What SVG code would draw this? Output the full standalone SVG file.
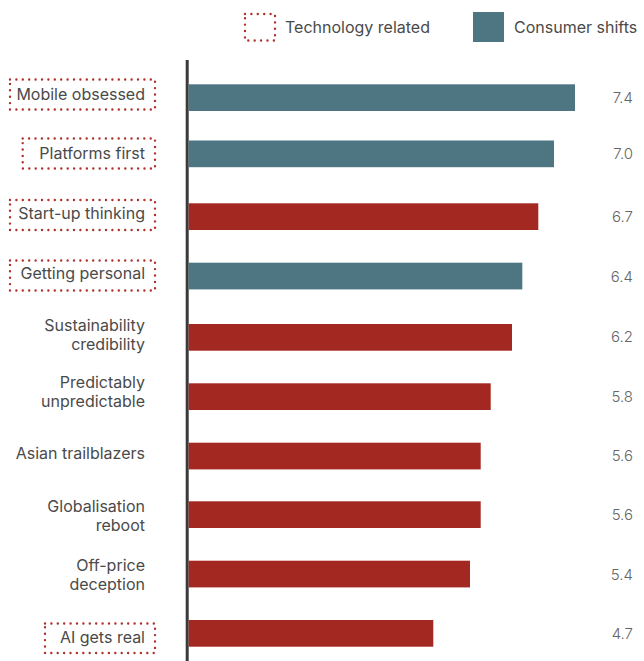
<svg xmlns="http://www.w3.org/2000/svg" width="644" height="661" viewBox="0 0 644 661">
<style>
text{font-family:Inter,"Liberation Sans",Arial,sans-serif;font-size:16px;fill:#4a4a4a}
.lbl{text-anchor:end}
.val{text-anchor:end;font-size:15px;font-weight:300;fill:#666}
.red{fill:#a42822}
.teal{fill:#4d7682}
.dot{fill:none;stroke:#b0302b;stroke-width:2.4;stroke-linecap:round;stroke-dasharray:0 6.4}
</style>
<rect width="644" height="661" fill="#fff"/>
<g id="legend">
<rect class="dot" x="245" y="14" width="30" height="26.5"/>
<text x="285" y="33">Technology related</text>
<rect class="teal" x="473" y="12" width="31" height="30"/>
<text x="514" y="33">Consumer shifts</text>
</g>
<g id="axis"><line x1="187.2" y1="60" x2="187.2" y2="661" stroke="#3a3a3a" stroke-width="3"/></g>
<g id="n1"><rect class="dot" x="10" y="79.5" width="145" height="30"/><text class="lbl" x="145" y="100">Mobile obsessed</text><rect class="teal" x="188.7" y="84.3" width="386.3" height="26.7"/><text class="val" x="633" y="103">7.4</text></g>
<g id="n2"><rect class="dot" x="22.7" y="138.5" width="132.3" height="30"/><text class="lbl" x="145" y="158.5">Platforms first</text><rect class="teal" x="188.7" y="140.5" width="365.3" height="26.7"/><text class="val" x="633" y="159">7.0</text></g>
<g id="n3"><rect class="dot" x="10" y="200" width="145" height="30"/><text class="lbl" x="145" y="219">Start-up thinking</text><rect class="red" x="188.7" y="203.3" width="349.6" height="26.7"/><text class="val" x="633" y="222">6.7</text></g>
<g id="n4"><rect class="dot" x="10" y="260.5" width="145" height="30"/><text class="lbl" x="145" y="279">Getting personal</text><rect class="teal" x="188.7" y="262.7" width="333.6" height="26.7"/><text class="val" x="633" y="281.5">6.4</text></g>
<g id="n5"><text class="lbl" x="145" y="331">Sustainability</text><text class="lbl" x="145" y="349.5">credibility</text><rect class="red" x="188.7" y="324" width="323.3" height="26.7"/><text class="val" x="633" y="342">6.2</text></g>
<g id="n6"><text class="lbl" x="145" y="388">Predictably</text><text class="lbl" x="145" y="407">unpredictable</text><rect class="red" x="188.7" y="383.3" width="302" height="26.7"/><text class="val" x="633" y="402">5.8</text></g>
<g id="n7"><text class="lbl" x="145" y="458.5">Asian trailblazers</text><rect class="red" x="188.7" y="442.7" width="292" height="26.7"/><text class="val" x="633" y="461">5.6</text></g>
<g id="n8"><text class="lbl" x="145" y="512">Globalisation</text><text class="lbl" x="145" y="531">reboot</text><rect class="red" x="188.7" y="501.3" width="292" height="26.7"/><text class="val" x="633" y="520">5.6</text></g>
<g id="n9"><text class="lbl" x="145" y="571">Off-price</text><text class="lbl" x="145" y="589.5">deception</text><rect class="red" x="188.7" y="560.7" width="281.3" height="26.7"/><text class="val" x="633" y="579.5">5.4</text></g>
<g id="n10"><rect class="dot" x="45" y="623.5" width="110" height="29.5"/><text class="lbl" x="145" y="643">AI gets real</text><rect class="red" x="188.7" y="620" width="244.6" height="26.7"/><text class="val" x="633" y="639">4.7</text></g>
<g id="connectors"></g>
</svg>
